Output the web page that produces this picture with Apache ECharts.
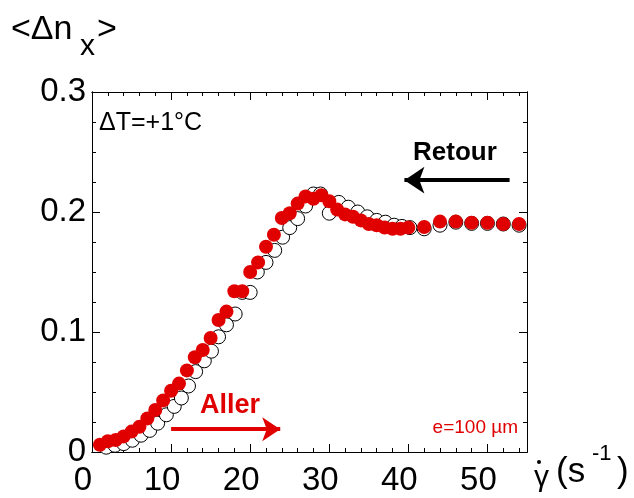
<!DOCTYPE html>
<html><head><meta charset="utf-8">
<script src="https://cdn.jsdelivr.net/npm/echarts@6/dist/echarts.min.js"></script>
<style>html,body{margin:0;padding:0;background:#fff}#c{width:634px;height:498px}</style>
</head><body><div id="c"></div>
<script>
// Aller (increasing shear rate), red filled
const allerX = [1,2,3,4,5,6,7,8,9,10,11,12,13,14,15,16,17,18,19,20,21,22,23,24,25,26,27,28,29,30,31,32,33,34,35,36,37,38,39,40,42,44,46,48,50,52,54];
const allerY = [0.006,0.009,0.010,0.013,0.017,0.021,0.028,0.035,0.043,0.051,0.057,0.068,0.079,0.085,0.095,0.110,0.117,0.134,0.134,0.150,0.158,0.171,0.181,0.195,0.199,0.207,0.213,0.211,0.214,0.209,0.202,0.198,0.196,0.193,0.190,0.189,0.187,0.186,0.186,0.187,0.1875,0.192,0.192,0.191,0.191,0.190,0.190];
// Retour (decreasing shear rate), open circles
const retourX = [1.8,2.9,4.0,5.1,6.2,7.3,8.3,9.4,10.4,11.3,12.2,13.1,14.2,15.1,16.0,17.0,18.1,19.0,20.0,20.9,22.0,23.1,24.1,25.0,26.0,27.0,28.0,28.9,30.0,31.2,32.4,33.6,34.8,36.0,37.1,38.2,39.2,40.2,42.0,44.0,46.0,48.0,50.0,52.0,54.0];
const retourY = [0.004,0.0056,0.007,0.0098,0.014,0.018,0.024,0.031,0.038,0.045,0.055,0.067,0.076,0.084,0.096,0.106,0.115,0.133,0.133,0.150,0.158,0.168,0.179,0.187,0.1945,0.205,0.215,0.215,0.199,0.208,0.204,0.200,0.196,0.193,0.1915,0.189,0.188,0.187,0.186,0.189,0.1915,0.1905,0.1905,0.190,0.189];
const xTickLabels = [0,10,20,30,40,50];
const yTickLabels = [0,0.1,0.2,0.3];

const FONT = 'Liberation Sans, Arial, sans-serif';
const RED = '#e00000';
const chart = echarts.init(document.getElementById('c'), null, {renderer:'canvas'});

function axisCommon(extra){
  return Object.assign({
    type:'value', splitLine:{show:false},
    axisLine:{show:true, onZero:false, lineStyle:{color:'#000', width:1}},
    axisLabel:{show:false}
  }, extra);
}
const tickMajor = {show:true, inside:true, length:8, lineStyle:{color:'#000', width:1}};
const tickMinor = {show:true, inside:true, length:4, lineStyle:{color:'#000', width:1}};
const gridRect = {left:92, top:92, width:435, height:360, containLabel:false};

const option = {
  animation:false,
  grid:[Object.assign({}, gridRect), Object.assign({}, gridRect)],
  xAxis:[
    axisCommon({gridIndex:0, position:'bottom', min:0, max:55, interval:10, axisTick:tickMajor,
      axisLabel:{show:true, color:'#000', fontSize:33, fontFamily:FONT, margin:12, padding:[0,18,0,0],
        formatter:v=> xTickLabels.indexOf(Math.round(v))>=0 && Math.abs(v-Math.round(v))<1e-6 ? String(Math.round(v)) : ''}}),
    axisCommon({gridIndex:0, position:'top', min:0, max:55, interval:10, axisTick:tickMajor}),
    axisCommon({gridIndex:1, position:'bottom', min:0, max:55, interval:2, axisTick:tickMinor}),
    axisCommon({gridIndex:1, position:'top', min:0, max:55, interval:2, axisTick:tickMinor})
  ],
  yAxis:[
    axisCommon({gridIndex:0, position:'left', min:0, max:0.3, interval:0.1, axisTick:tickMajor,
      axisLabel:{show:true, color:'#000', fontSize:33, fontFamily:FONT, margin:6,
        formatter:v=>{ const r=Math.round(v*10)/10; return yTickLabels.indexOf(r)>=0 ? (r===0?'0':r.toFixed(1)) : '';} }}),
    axisCommon({gridIndex:0, position:'right', min:0, max:0.3, interval:0.1, axisTick:tickMajor}),
    axisCommon({gridIndex:1, position:'left', min:0, max:0.3, interval:0.025, axisTick:tickMinor}),
    axisCommon({gridIndex:1, position:'right', min:0, max:0.3, interval:0.025, axisTick:tickMinor})
  ],
  series:[
    {type:'scatter', xAxisIndex:0, yAxisIndex:0, silent:true, z:2,
     data: retourX.map((x,i)=>[x, retourY[i]]),
     symbol:'circle', symbolSize:14,
     itemStyle:{color:'#fff', borderColor:'#000', borderWidth:1, opacity:1},
     markLine:{silent:true, symbol:['none','arrow'], symbolSize:20, label:{show:false},
       lineStyle:{color:'#000', width:4, type:'solid'},
       data:[[{coord:[52.8,0.2265]},{coord:[39.5,0.2265]}]]}
    },
    {type:'scatter', xAxisIndex:0, yAxisIndex:0, silent:true, z:3,
     data: allerX.map((x,i)=>[x, allerY[i]]),
     symbol:'circle', symbolSize:14,
     itemStyle:{color:RED, opacity:1},
     markLine:{silent:true, symbol:['none','arrow'], symbolSize:18, label:{show:false},
       lineStyle:{color:RED, width:4, type:'solid'},
       data:[[{coord:[10.0,0.019]},{coord:[23.8,0.019]}]]}
    }
  ],
  graphic:[
    {type:'text', x:11, y:30, style:{text:'<Δn', font:'34px '+FONT, fill:'#000', textVerticalAlign:'middle'}},
    {type:'text', x:80, y:47, style:{text:'x', font:'30px '+FONT, fill:'#000', textVerticalAlign:'middle'}},
    {type:'text', x:97, y:30, style:{text:'>', font:'34px '+FONT, fill:'#000', textVerticalAlign:'middle'}},
    {type:'text', x:99, y:123, style:{text:'ΔT=+1°C', font:'25px '+FONT, fill:'#000', textVerticalAlign:'middle'}},
    {type:'text', x:413, y:153, style:{text:'Retour', font:'bold 26px '+FONT, fill:'#000', textVerticalAlign:'middle'}},
    {type:'text', x:200, y:406, style:{text:'Aller', font:'bold 27px '+FONT, fill:RED, textVerticalAlign:'middle'}},
    {type:'text', x:518, y:428, style:{text:'e=100 µm', font:'19px '+FONT, fill:RED, textAlign:'right', textVerticalAlign:'middle'}},
    {type:'text', x:534, y:478, style:{text:'γ', font:'30px '+FONT, fill:'#000', textVerticalAlign:'middle'}},
    {type:'circle', shape:{cx:539, cy:462, r:2}, style:{fill:'#000'}},
    {type:'text', x:556, y:472, style:{text:'(s', font:'35px '+FONT, fill:'#000', textVerticalAlign:'middle'}},
    {type:'text', x:592, y:454, style:{text:'-1', font:'22px '+FONT, fill:'#000', textVerticalAlign:'middle'}},
    {type:'text', x:617, y:472, style:{text:')', font:'35px '+FONT, fill:'#000', textVerticalAlign:'middle'}}
  ]
};
chart.setOption(option);
</script>
</body></html>
